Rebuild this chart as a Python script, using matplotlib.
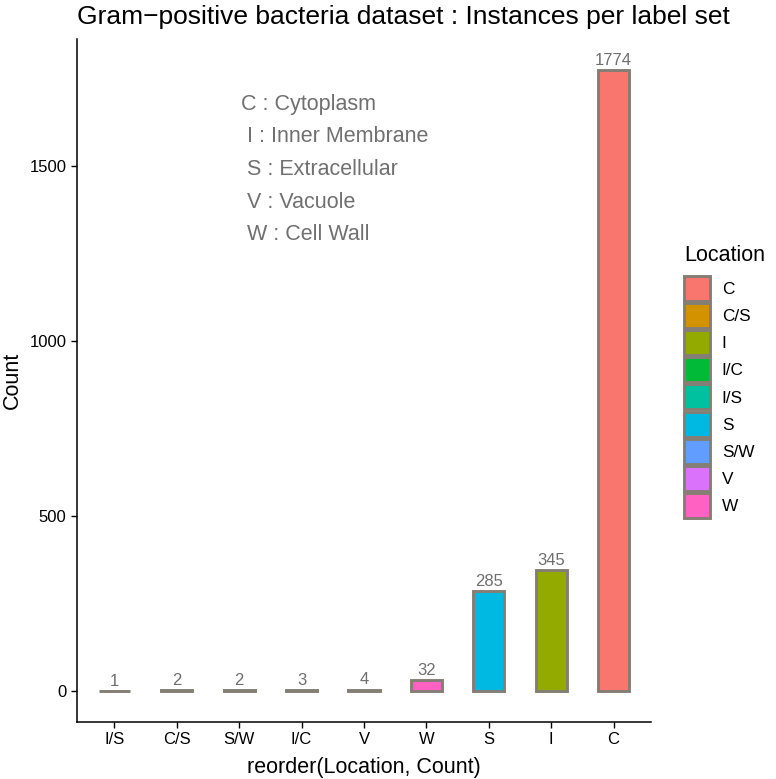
import matplotlib
matplotlib.use("Agg")
import matplotlib.pyplot as plt
from matplotlib.patches import Patch

plt.rcParams['font.family'] = ['Liberation Sans', 'DejaVu Sans']

# Data
categories = ["I/S", "C/S", "S/W", "I/C", "V", "W", "S", "I", "C"]
counts = [1, 2, 2, 3, 4, 32, 285, 345, 1774]
legend_labels = ["C", "C/S", "I", "I/C", "I/S", "S", "S/W", "V", "W"]
legend_colors = ["#F8766D", "#D39200", "#93AA00", "#00BA38", "#00C19F",
                 "#00B9E3", "#619CFF", "#DB72FB", "#FF61C3"]
color_map = dict(zip(legend_labels, legend_colors))
yticks = [0, 500, 1000, 1500]
annotation_lines = ["C : Cytoplasm", " I : Inner Membrane", " S : Extracellular",
                    " V : Vacuole", " W : Cell Wall"]

W, H = 776, 779
fig = plt.figure(figsize=(W / 100, H / 100), dpi=100)
ax = fig.add_axes([77 / W, (H - 722) / H, (651 - 77) / W, (722 - 39) / H])

edge = "#857E74"
x = list(range(1, len(categories) + 1))
ax.bar(x, counts, width=0.5, color=[color_map[c] for c in categories],
       edgecolor=edge, linewidth=2.1)
for xi, c in zip(x, counts):
    ax.text(xi, c + 6, str(c), ha="center", va="bottom", fontsize=12, color="#6E6E6E")

ymax = max(counts)
ax.set_ylim(-0.05 * ymax, ymax * 1.05)
ax.set_xlim(0.4, len(categories) + 0.6)
ax.set_xticks(x)
ax.set_xticklabels(categories)
ax.set_yticks(yticks)
ax.tick_params(axis="both", labelsize=12, colors="black", length=4, width=1)
for s in ["top", "right"]:
    ax.spines[s].set_visible(False)
for s in ["left", "bottom"]:
    ax.spines[s].set_linewidth(1.1)

ax.set_xlabel("reorder(Location, Count)", fontsize=15.5, labelpad=7)
ax.set_ylabel("Count", fontsize=15.5, labelpad=5)

ax.text(3.03, 1490, "\n".join(annotation_lines), ha="left", va="center",
        fontsize=15.5, color="#707070", linespacing=1.73)

fig.text(77 / W, 1 - 24 / H, "Gram\u2212positive bacteria dataset : Instances per label set",
         ha="left", va="baseline", fontsize=19, color="black")

handles = [Patch(facecolor=c, edgecolor=edge, linewidth=2.1) for c in legend_colors]
leg = fig.legend(handles, legend_labels, loc="upper left",
                 bbox_to_anchor=(677 / W, 1 - 238 / H), frameon=False,
                 fontsize=12.4, title="Location", title_fontsize=15.5,
                 handlelength=1.5, handleheight=1.86, labelspacing=0.12,
                 handletextpad=0.7, borderaxespad=0)
leg._legend_box.align = "left"
leg._legend_box.sep = 7.3

fig.savefig("out.png", dpi=100)
